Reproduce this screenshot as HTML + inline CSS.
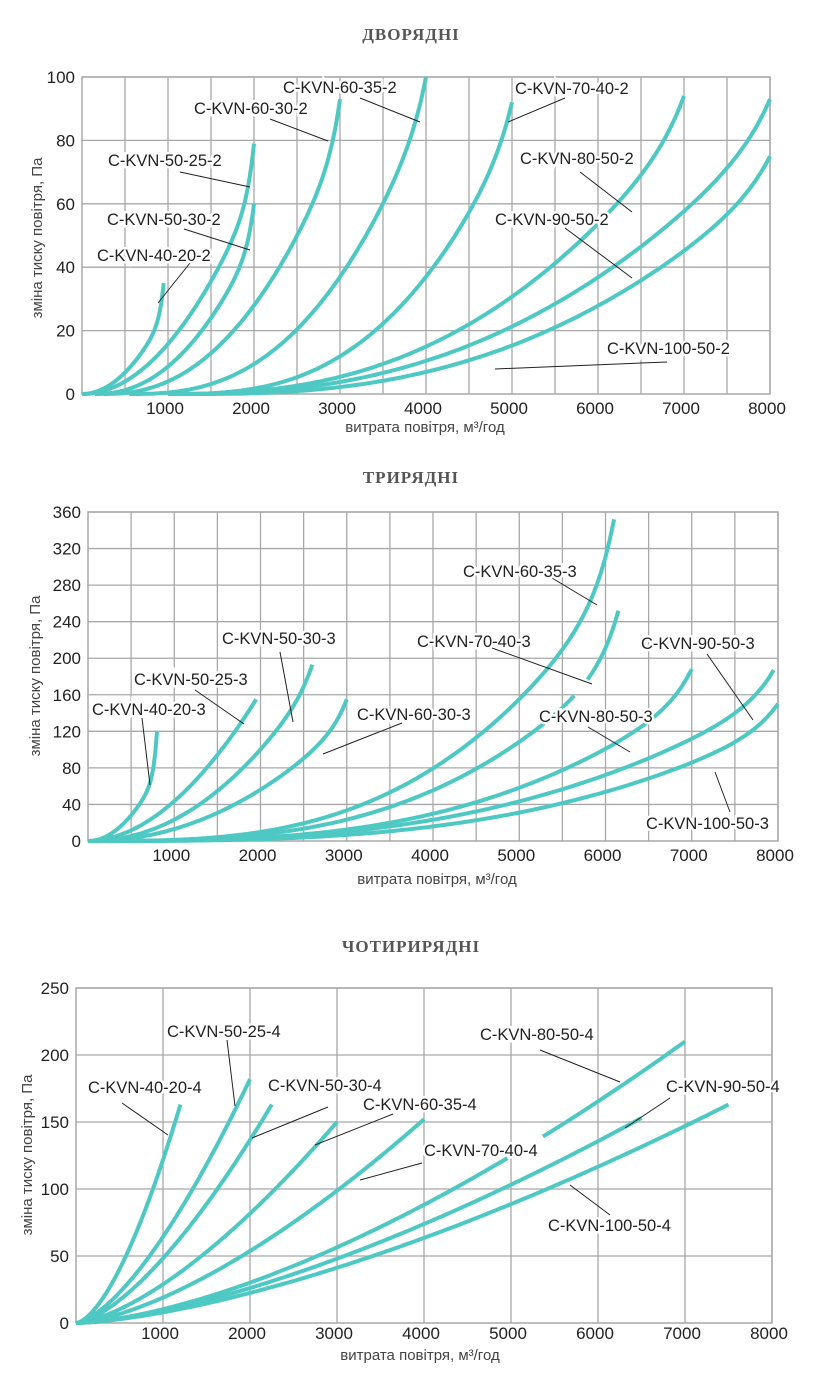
<!DOCTYPE html>
<html><head><meta charset="utf-8"><style>
body{margin:0;background:#fff;width:823px;height:1384px;overflow:hidden}
svg{display:block}
text{font-family:"Liberation Sans",sans-serif;fill:#222}
</style></head><body>
<svg id="s" width="823" height="1384" xmlns="http://www.w3.org/2000/svg"></svg>
<script>
const S=document.getElementById('s');let h='';
function chart(c){
 const X=q=>c.x0+q*c.kx, Y=p=>c.y0-p*c.ky;
 for(let q=c.gx;q<=8000;q+=c.gx){h+=`<line x1="${X(q)}" y1="${c.y0}" x2="${X(q)}" y2="${Y(c.pmax)}" stroke="#a8a8a8" stroke-width="1.3"/>`;}
 for(let p=c.gy;p<=c.pmax;p+=c.gy){h+=`<line x1="${c.x0}" y1="${Y(p)}" x2="${X(8000)}" y2="${Y(p)}" stroke="#a8a8a8" stroke-width="1.3"/>`;}
 h+=`<rect x="${c.x0}" y="${Y(c.pmax)}" width="${X(8000)-c.x0}" height="${c.y0-Y(c.pmax)}" fill="none" stroke="#a8a8a8" stroke-width="1.5"/>`;
 for(let p=0;p<=c.pmax;p+=c.ty){h+=`<text x="${c.x0-7}" y="${Y(p)+6}" font-size="17" text-anchor="end">${p}</text>`;}
 for(let q=1000;q<=8000;q+=1000){h+=`<text x="${X(q)-3}" y="${c.y0+c.td}" font-size="17" text-anchor="middle">${q}</text>`;}
 h+=`<text x="${c.xl[0]}" y="${c.xl[1]}" font-size="15" text-anchor="middle" style="fill:#444">витрата повітря, м³/год</text>`;
 h+=`<text transform="translate(${c.yl[0]},${c.yl[1]}) rotate(-90)" font-size="15" text-anchor="middle" style="fill:#444">зміна тиску повітря, Па</text>`;
 h+=`<text x="411" y="${c.ty0}" font-size="17" font-weight="bold" text-anchor="middle" style="fill:#555;font-family:'Liberation Serif',serif;letter-spacing:1px">${c.title}</text>`;
 for(const cv of c.curves){const [Q,P,n,s,gap,w,m]=cv;const W=(w===undefined)?1:w;const M=m||20;let d='';let pen=false;
  for(let i=0;i<=120;i++){const q=s+(Q-s)*i/120;const t=(q-s)/(Q-s);const p=P*(W*Math.pow(t,n)+(1-W)*Math.pow(t,M));
   if(gap&&q>gap[0]&&q<gap[1]){pen=false;continue;}
   d+=(pen?'L':'M')+X(q).toFixed(1)+' '+Y(p).toFixed(1)+' ';pen=true;}
  h+=`<path d="${d}" fill="none" stroke="#4ec8c3" stroke-width="4"/>`;}
 for(const l of c.labels){const [t,x,y,x1,y1,x2,y2]=l;
  h+=`<line x1="${x1}" y1="${y1}" x2="${x2}" y2="${y2}" stroke="#222" stroke-width="1"/>`;
  h+=`<text x="${x}" y="${y}" font-size="16.5" stroke="#fff" stroke-width="5" paint-order="stroke" style="fill:#222">${t}</text>`;}
}
chart({x0:82,y0:394,kx:86/1000,ky:317/100,pmax:100,gx:500,gy:20,ty:20,td:20,xl:[425,432],yl:[42,238],ty0:40,title:'ДВОРЯДНІ',
 curves:[[950,35,2,0,null,0.7,20],[2000,79,2,0,null,0.8,25],[2000,60,2.2,150,null,0.8,25],[3000,93,2.3,250,null,0.85,25],[4000,100,2.6,550,null,0.9,25],[5000,92,2.8,1000,null,0.9,25],[7000,94,2.5,1000,null,0.9,25],[8000,93,2.4,1100,null,0.9,25],[8000,75,2.5,1300,null,0.9,25]],
 labels:[['C-KVN-60-35-2',283,93,360,98,420,122],['C-KVN-60-30-2',194,114,270,119,328,141],['C-KVN-70-40-2',515,94,565,98,508,122],['C-KVN-80-50-2',520,164,580,172,632,212],['C-KVN-90-50-2',495,225,565,228,632,278],['C-KVN-100-50-2',607,354,667,362,495,369],['C-KVN-50-25-2',108,166,180,172,250,187],['C-KVN-50-30-2',107,225,184,229,250,250],['C-KVN-40-20-2',97,261,190,263,158,303]]});
chart({x0:88,y0:841,kx:86.25/1000,ky:329/360,pmax:360,gx:500,gy:40,ty:40,td:20,xl:[437,884],yl:[40,676],ty0:483,title:'ТРИРЯДНІ',
 curves:[[800,120,2,0,null,0.6,20],[1950,155,1.9,0],[2600,193,2.1,0,null,0.9,20],[3000,155,2.1,0,null,0.85,20],[6100,352,3,0,null,0.8,30],[6150,252,3,0,[5650,5750],0.8,30],[7000,188,3,0,null,0.85,30],[7950,187,2.8,0,null,0.85,30],[8000,150,3,0,null,0.85,30]],
 labels:[['C-KVN-40-20-3',92,715,142,718,150,785],['C-KVN-50-25-3',134,685,195,690,244,724],['C-KVN-50-30-3',222,644,280,652,293,722],['C-KVN-60-30-3',357,720,402,723,323,754],['C-KVN-60-35-3',463,577,552,578,597,605],['C-KVN-70-40-3',417,647,492,648,592,684],['C-KVN-80-50-3',539,722,588,727,630,752],['C-KVN-90-50-3',641,649,707,654,753,720],['C-KVN-100-50-3',646,829,730,812,715,772]]});
chart({x0:76,y0:1323,kx:87/1000,ky:335/250,pmax:250,gx:1000,gy:50,ty:50,td:16,xl:[420,1360],yl:[32,1155],ty0:952,title:'ЧОТИРИРЯДНІ',
 curves:[[1200,163,1.6,0],[2000,182,1.5,0],[2250,163,1.5,0],[3000,150,1.5,0],[4000,152,1.5,0],[7000,210,1.55,0,[5000,5350]],[6500,153,1.5,0],[7500,163,1.5,0]],
 labels:[['C-KVN-40-20-4',88,1093,122,1103,168,1135],['C-KVN-50-25-4',167,1037,227,1040,235,1106],['C-KVN-50-30-4',268,1091,328,1107,252,1138],['C-KVN-60-35-4',363,1110,393,1114,315,1145],['C-KVN-70-40-4',424,1156,422,1163,360,1180],['C-KVN-80-50-4',480,1040,540,1050,620,1082],['C-KVN-90-50-4',666,1092,670,1098,625,1128],['C-KVN-100-50-4',548,1231,610,1215,570,1185]]});
S.innerHTML=h;
</script>
</body></html>
